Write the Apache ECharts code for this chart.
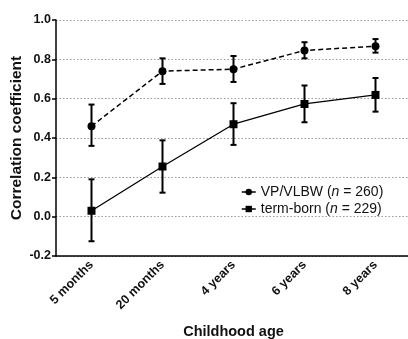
<!DOCTYPE html>
<html><head><meta charset="utf-8">
<script src="https://cdn.jsdelivr.net/npm/echarts@6/dist/echarts.min.js"></script>
<style>html,body{margin:0;padding:0;background:#fff}#c{width:408px;height:339px}</style>
</head><body><div id="c"></div>
<script>
const categories = ['5 months', '20 months', '4 years', '6 years', '8 years'];
const yTicks = [-0.2, 0.0, 0.2, 0.4, 0.6, 0.8, 1.0];
const vpMean = [0.46, 0.74, 0.75, 0.845, 0.867];
const vpLow  = [0.36, 0.675, 0.685, 0.805, 0.834];
const vpHigh = [0.57, 0.805, 0.817, 0.887, 0.903];
const termMean = [0.03, 0.255, 0.47, 0.573, 0.619];
const termLow  = [-0.125, 0.122, 0.365, 0.48, 0.534];
const termHigh = [0.19, 0.388, 0.577, 0.667, 0.705];
const seriesNames = ['VP/VLBW (n = 260)', 'term-born (n = 229)'];

const font = 'Liberation Sans, Arial, sans-serif';
function errData(lo, hi){ return lo.map((v,i)=>[i, v, hi[i]]); }
function errRender(params, api){
  const x = api.value(0);
  const p1 = api.coord([x, api.value(1)]);
  const p2 = api.coord([x, api.value(2)]);
  const w = 3;
  const st = {stroke:'#000', lineWidth:2};
  return {type:'group', children:[
    {type:'line', shape:{x1:p1[0], y1:p1[1], x2:p2[0], y2:p2[1]}, style:st},
    {type:'line', shape:{x1:p1[0]-w, y1:p1[1], x2:p1[0]+w, y2:p1[1]}, style:st},
    {type:'line', shape:{x1:p2[0]-w, y1:p2[1], x2:p2[0]+w, y2:p2[1]}, style:st}
  ]};
}
const chart = echarts.init(document.getElementById('c'));
chart.setOption({
  animation:false,
  backgroundColor:'#fff',
  grid:{left:56, right:-3, top:20, bottom:83, containLabel:false, outerBoundsMode:'none'},
  legend:{
    orient:'vertical', left:236, top:180, itemGap:3, itemWidth:14, itemHeight:8,
    data:seriesNames,
    lineStyle:{type:'solid', width:1.5},
    textStyle:{fontFamily:font, fontSize:14, color:'#111', rich:{i:{fontStyle:'italic', fontFamily:font, fontSize:14, color:'#111'}}},
    formatter: n => n.replace('(n =', '({i|n} =')
  },
  xAxis:{
    type:'category', data:categories, boundaryGap:true,
    name:'Childhood age', nameLocation:'middle', nameGap:68, nameMoveOverlap:false,
    nameTextStyle:{fontFamily:font, fontSize:14.5, fontWeight:'bold', color:'#111'},
    axisLine:{onZero:false, lineStyle:{color:'#000', width:1.5}},
    axisTick:{alignWithLabel:true, length:4, lineStyle:{color:'#000', width:1.5}},
    axisLabel:{rotate:45, fontFamily:font, fontSize:12.5, fontWeight:'bold', color:'#111', margin:7, interval:0},
    splitLine:{show:false}
  },
  yAxis:{
    type:'value', min:-0.2, max:1.0, interval:0.2,
    name:'Correlation coefficient', nameLocation:'middle', nameGap:31, nameMoveOverlap:false,
    nameTextStyle:{fontFamily:font, fontSize:15.5, fontWeight:'bold', color:'#111'},
    axisLine:{show:true, lineStyle:{color:'#000', width:1.5}},
    axisTick:{show:true, length:4, lineStyle:{color:'#000', width:1.5}},
    axisLabel:{fontFamily:font, fontSize:12.5, fontWeight:'bold', color:'#111', margin:5,
      formatter: v => { const t = yTicks.find(k => Math.abs(k - v) < 1e-6); return (t !== undefined ? t : v).toFixed(1); }},
    splitLine:{show:true, lineStyle:{color:'#999', type:[1.5,2], width:1}}
  },
  series:[
    {name:seriesNames[0], type:'line', data:vpMean, symbol:'circle', symbolSize:8,
     itemStyle:{color:'#000'}, lineStyle:{color:'#000', width:1.5, type:[5,3]}, z:3},
    {name:seriesNames[1], type:'line', data:termMean, symbol:'rect', symbolSize:8,
     itemStyle:{color:'#000'}, lineStyle:{color:'#000', width:1.3, type:'solid'}, z:3},
    {name:'vpErr', type:'custom', renderItem:errRender, data:errData(vpLow, vpHigh), encode:{x:0, y:[1,2]}, z:4},
    {name:'termErr', type:'custom', renderItem:errRender, data:errData(termLow, termHigh), encode:{x:0, y:[1,2]}, z:4}
  ]
});
</script></body></html>
